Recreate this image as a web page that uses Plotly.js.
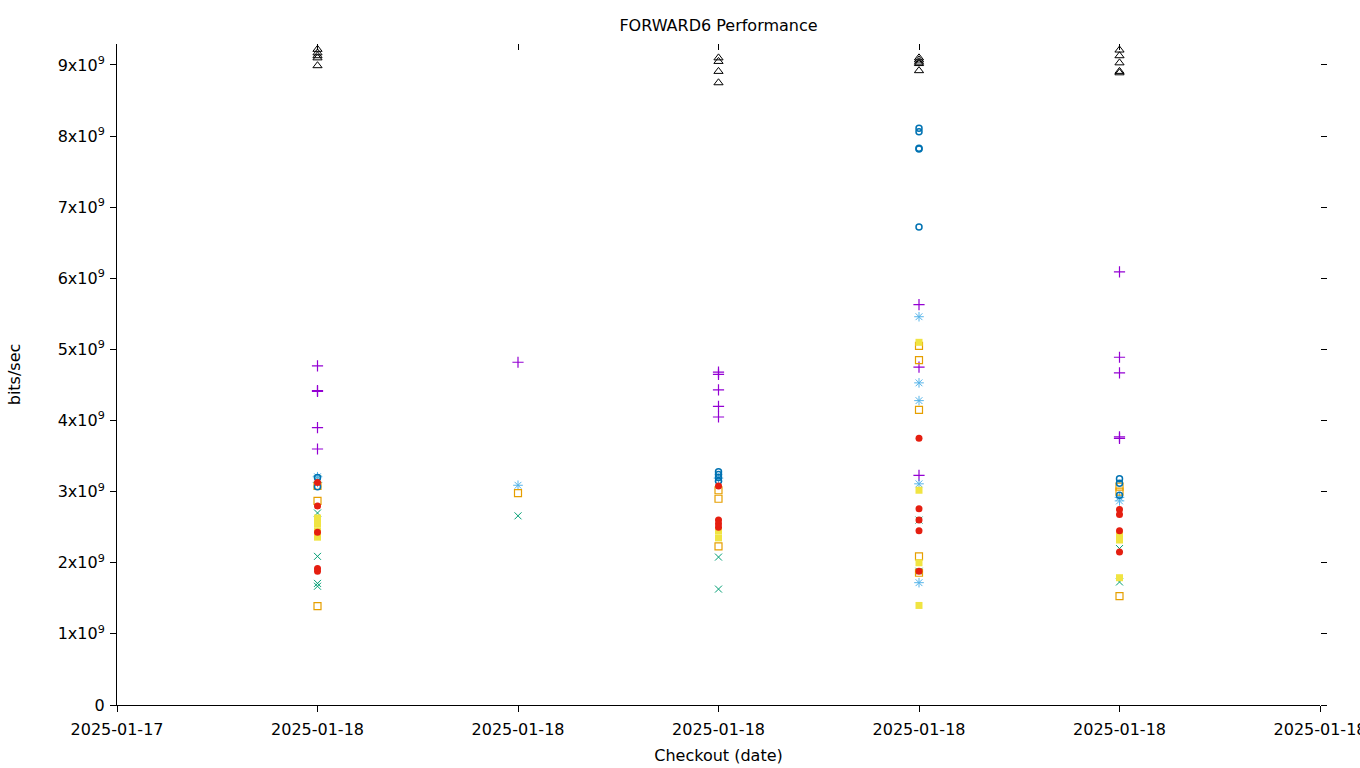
<!DOCTYPE html>
<html>
<head>
<meta charset="utf-8">
<script src="https://cdn.plot.ly/plotly-3.0.1.min.js"></script>
<style>html,body{margin:0;padding:0;background:#fff;overflow:hidden;}#chart{width:1360px;height:768px;}</style>
</head>
<body>
<div id="chart"></div>
<script>
// x positions are checkout indices (0..6), labels below
const xTickVals = [0, 1, 2, 3, 4, 5, 6];
const xTickText = ["2025-01-17", "2025-01-18", "2025-01-18", "2025-01-18", "2025-01-18", "2025-01-18", "2025-01-18"];
const yTickVals = [0, 1e9, 2e9, 3e9, 4e9, 5e9, 6e9, 7e9, 8e9, 9e9];
const yTickText = ["0", "1x10<sup>9</sup>", "2x10<sup>9</sup>", "3x10<sup>9</sup>", "4x10<sup>9</sup>", "5x10<sup>9</sup>", "6x10<sup>9</sup>", "7x10<sup>9</sup>", "8x10<sup>9</sup>", "9x10<sup>9</sup>"];

// series: purple plus
const plusX = [1,1,1,1,1, 2, 3,3,3,3,3, 4,4,4, 5,5,5,5,5];
const plusY = [4.77e9,4.42e9,4.41e9,3.90e9,3.60e9, 4.82e9, 4.68e9,4.65e9,4.43e9,4.20e9,4.05e9, 5.63e9,4.75e9,3.23e9, 6.09e9,4.89e9,4.67e9,3.77e9,3.75e9];
// teal x
const crossX = [1,1,1,1,1, 2, 3,3, 4,4, 5,5];
const crossY = [2.70e9,2.09e9,1.71e9,1.67e9,3.18e9, 2.66e9, 2.08e9,1.63e9, 2.60e9,1.88e9, 2.20e9,1.73e9];
// light blue asterisk
const starX = [1,1, 2, 3, 4,4,4,4,4, 5,5];
const starY = [3.21e9,3.13e9, 3.09e9, 3.19e9, 5.46e9,4.53e9,4.28e9,3.11e9,1.72e9, 2.92e9,2.87e9];
// orange open square
const sqOpenX = [1,1,1, 2, 3,3,3, 4,4,4,4,4, 5,5,5];
const sqOpenY = [3.08e9,2.87e9,1.39e9, 2.98e9, 3.02e9,2.90e9,2.23e9, 5.05e9,4.85e9,4.15e9,2.09e9,1.86e9, 3.07e9,3.00e9,1.53e9];
// yellow filled square
const sqFillX = [1,1,1,1, 3,3, 4,4,4,4, 5,5,5];
const sqFillY = [2.63e9,2.55e9,2.45e9,2.36e9, 2.45e9,2.35e9, 5.10e9,3.02e9,2.00e9,1.40e9, 2.40e9,2.32e9,1.79e9];
// blue open circle
const circOpenX = [1,1, 3,3,3,3, 4,4,4,4,4, 5,5,5];
const circOpenY = [3.20e9,3.07e9, 3.28e9,3.24e9,3.20e9,3.15e9, 8.11e9,8.06e9,7.83e9,7.82e9,6.72e9, 3.18e9,3.12e9,2.95e9];
// red filled circle
const circFillX = [1,1,1,1,1, 3,3,3,3, 4,4,4,4,4, 5,5,5,5];
const circFillY = [3.13e9,2.80e9,2.43e9,1.92e9,1.88e9, 3.08e9,2.60e9,2.55e9,2.50e9, 3.75e9,2.76e9,2.60e9,2.45e9,1.88e9, 2.75e9,2.68e9,2.45e9,2.15e9];
// black open triangle
const triX = [1,1,1,1,1, 3,3,3,3, 4,4,4,4,4, 5,5,5,5,5];
const triY = [9.22e9,9.17e9,9.13e9,9.10e9,8.99e9, 9.10e9,9.05e9,8.91e9,8.75e9, 9.10e9,9.07e9,9.04e9,9.02e9,8.92e9, 9.21e9,9.13e9,9.03e9,8.91e9,8.89e9];

function series(x, y, symbol, color, size, width) {
  return {x: x, y: y, type: 'scatter', mode: 'markers', showlegend: false, hoverinfo: 'skip',
    marker: {symbol: symbol, color: color, size: size, line: {color: color, width: width}}};
}

const traces = [
  series(plusX, plusY, 'cross-thin-open', '#9400d3', 8, 1.2),
  series(crossX, crossY, 'x-thin-open', '#009e73', 7, 1),
  series(starX, starY, 'asterisk-open', '#56b4e9', 8, 1),
  series(sqOpenX, sqOpenY, 'square-open', '#e69f00', 7, 1.2),
  series(sqFillX, sqFillY, 'square', '#f0e442', 7, 0),
  series(circOpenX, circOpenY, 'circle-open', '#0072b2', 6, 1.5),
  series(circFillX, circFillY, 'circle', '#e51e10', 7, 0),
  series(triX, triY, 'triangle-up-open', '#000000', 8, 1),
  {x: [null], y: [null], xaxis: 'x2', yaxis: 'y2', type: 'scatter', mode: 'markers', showlegend: false}
];

const font = {family: 'DejaVu Sans, sans-serif', size: 16, color: '#000'};

const layout = {
  width: 1360, height: 768,
  margin: {l: 117, r: 40, t: 44, b: 63},
  paper_bgcolor: '#fff', plot_bgcolor: '#fff',
  font: font,
  title: {text: 'FORWARD6 Performance', font: {family: 'DejaVu Sans, sans-serif', size: 16, color: '#000'}, xref: 'paper', x: 0.5, xanchor: 'center', yref: 'container', y: 0.967, yanchor: 'middle'},
  xaxis: {range: [0, 6], tickvals: xTickVals, ticktext: xTickText, showgrid: false, zeroline: false,
    showline: true, linecolor: '#000', linewidth: 1, ticks: 'outside', ticklen: 6, tickcolor: '#000',
    ticklabelstandoff: 4, ticklabeloverflow: 'allow',
    tickfont: font, title: {text: 'Checkout (date)', font: font, standoff: 11}},
  yaxis: {range: [0, 9.295e9], tickvals: yTickVals, ticktext: yTickText, showgrid: false, zeroline: false,
    showline: true, linecolor: '#000', linewidth: 1, ticks: 'outside', ticklen: 6, tickcolor: '#000',
    ticklabelstandoff: 2,
    tickfont: font, title: {text: 'bits/sec', font: font, standoff: 33}},
  xaxis2: {overlaying: 'x', side: 'top', range: [0, 6], tickvals: xTickVals, showticklabels: false,
    showgrid: false, zeroline: false, showline: false, ticks: 'inside', ticklen: 6, tickcolor: '#000'},
  yaxis2: {overlaying: 'y', side: 'right', range: [0, 9.295e9], tickvals: yTickVals, showticklabels: false,
    showgrid: false, zeroline: false, showline: false, ticks: 'outside', ticklen: 6, tickcolor: '#000'}
};

Plotly.newPlot('chart', traces, layout, {displayModeBar: false, staticPlot: true});
</script>
</body>
</html>
